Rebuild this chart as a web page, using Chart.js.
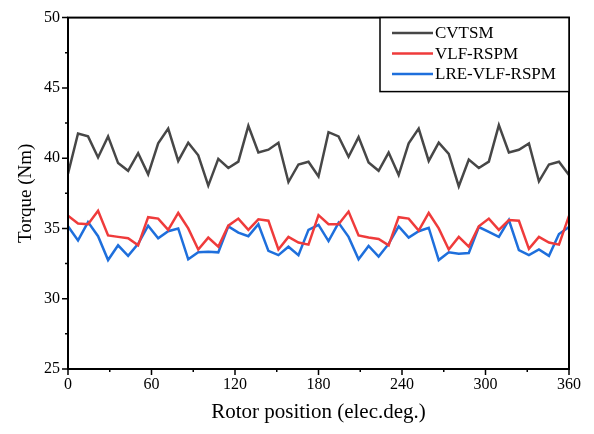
<!DOCTYPE html>
<html>
<head>
<meta charset="utf-8">
<script src="https://cdn.jsdelivr.net/npm/chart.js@4"></script>
<style>
  html, body { margin: 0; padding: 0; background: #fff; }
  #wrap { width: 594px; height: 434px; }
</style>
</head>
<body>
<div id="wrap"><canvas id="c" width="594" height="434"></canvas></div>
<script>
// Rotor positions (elec. deg.), step 7.2
const positions = [0,7.2,14.4,21.6,28.8,36,43.2,50.4,57.6,64.8,72,79.2,86.4,93.6,100.8,108,115.2,122.4,129.6,136.8,144,151.2,158.4,165.6,172.8,180,187.2,194.4,201.6,208.8,216,223.2,230.4,237.6,244.8,252,259.2,266.4,273.6,280.8,288,295.2,302.4,309.6,316.8,324,331.2,338.4,345.6,352.8,360];

const cvtsm = [38.9,41.75,41.55,40.05,41.55,39.65,39.1,40.35,38.85,41.05,42.1,39.8,41.1,40.2,38.05,39.95,39.3,39.75,42.3,40.4,40.6,41.1,38.3,39.55,39.75,38.7,41.85,41.55,40.1,41.5,39.7,39.1,40.4,38.8,41.05,42.1,39.8,41.1,40.3,38.0,39.9,39.3,39.75,42.35,40.4,40.6,41.05,38.35,39.55,39.75,38.8];

const vlfRspm = [35.9,35.35,35.3,36.25,34.5,34.4,34.3,33.8,35.8,35.7,34.9,36.1,35.0,33.5,34.35,33.7,35.2,35.7,34.9,35.65,35.55,33.5,34.4,34.0,33.85,35.95,35.3,35.3,36.2,34.5,34.35,34.25,33.8,35.8,35.7,34.85,36.1,35.0,33.5,34.4,33.7,35.15,35.7,34.9,35.6,35.55,33.55,34.4,34.0,33.85,35.9];

const lreVlfRspm = [35.15,34.15,35.45,34.45,32.75,33.8,33.05,33.9,35.2,34.3,34.8,35.0,32.8,33.3,33.35,33.3,35.15,34.7,34.45,35.3,33.4,33.1,33.7,33.1,34.9,35.25,34.1,35.4,34.4,32.8,33.75,33.0,33.9,35.15,34.35,34.8,35.05,32.75,33.3,33.2,33.25,35.1,34.75,34.4,35.6,33.45,33.1,33.5,33.05,34.6,35.1];

const seriesNames = ['CVTSM', 'VLF-RSPM', 'LRE-VLF-RSPM'];
const xTickLabels = [0, 60, 120, 180, 240, 300, 360];
const yTickLabels = [25, 30, 35, 40, 45, 50];

const colors = ['#474747', '#ef3b3b', '#1e6fdc'];
const FONT = "'Liberation Serif', 'Times New Roman', serif";

function pts(ys) { return positions.map((x, i) => ({ x: x, y: ys[i] })); }

const frameAndTicks = {
  id: 'frameAndTicks',
  afterDraw(chart) {
    const ctx = chart.ctx;
    const a = chart.chartArea;
    const xs = chart.scales.x, ys = chart.scales.y;
    ctx.save();
    ctx.strokeStyle = '#000';
    ctx.lineWidth = 2;
    ctx.strokeRect(a.left, a.top, a.right - a.left, a.bottom - a.top);
    ctx.lineWidth = 1.5;
    ctx.beginPath();
    xs.ticks.forEach(t => {
      const px = xs.getPixelForValue(t.value);
      const len = xTickLabels.includes(t.value) ? 6 : 3;
      ctx.moveTo(px, a.bottom);
      ctx.lineTo(px, a.bottom + len);
    });
    ys.ticks.forEach(t => {
      const py = ys.getPixelForValue(t.value);
      const len = yTickLabels.includes(t.value) ? 6 : 3;
      ctx.moveTo(a.left, py);
      ctx.lineTo(a.left - len, py);
    });
    ctx.stroke();

    // legend box
    const bx = 380, by = a.top, bw = a.right - 380, bh = 74;
    ctx.fillStyle = '#fff';
    ctx.fillRect(bx, by, bw, bh);
    ctx.lineWidth = 1.5;
    ctx.strokeRect(bx, by, bw, bh);
    ctx.font = '17px ' + FONT;
    ctx.textBaseline = 'middle';
    ctx.textAlign = 'left';
    chart.data.datasets.forEach((ds, i) => {
      const yy = 33 + i * 20.5;
      ctx.strokeStyle = ds.borderColor;
      ctx.lineWidth = 2.5;
      ctx.beginPath();
      ctx.moveTo(392, yy);
      ctx.lineTo(433, yy);
      ctx.stroke();
      ctx.fillStyle = '#000';
      ctx.fillText(ds.label, 435, yy + 1);
    });
    ctx.restore();
  }
};

new Chart(document.getElementById('c'), {
  type: 'line',
  data: {
    datasets: [
      { label: seriesNames[0], data: pts(cvtsm), borderColor: colors[0], borderWidth: 2.5 },
      { label: seriesNames[1], data: pts(vlfRspm), borderColor: colors[1], borderWidth: 2.5 },
      { label: seriesNames[2], data: pts(lreVlfRspm), borderColor: colors[2], borderWidth: 2.5 }
    ]
  },
  options: {
    responsive: false,
    animation: false,
    devicePixelRatio: 1,
    layout: { padding: { top: 15, right: 25, left: 0, bottom: 0 } },
    elements: { point: { radius: 0 }, line: { tension: 0, borderJoinStyle: 'miter' } },
    plugins: { legend: { display: false }, tooltip: { enabled: false } },
    scales: {
      x: {
        type: 'linear', min: 0, max: 360,
        ticks: {
          stepSize: 30, autoSkip: false, maxRotation: 0, padding: 6,
          color: '#000', font: { family: FONT, size: 16 },
          callback: v => xTickLabels.includes(v) ? String(v) : ''
        },
        grid: { display: false, drawTicks: false },
        border: { display: false },
        title: { display: true, text: 'Rotor position (elec.deg.)', color: '#000',
                 font: { family: FONT, size: 21 }, padding: { top: 6, bottom: 9 } },
        afterFit: s => { s.height = 434 - 369; }
      },
      y: {
        min: 25, max: 50,
        ticks: {
          stepSize: 2.5, autoSkip: false, padding: 8,
          color: '#000', font: { family: FONT, size: 16 },
          callback: v => yTickLabels.includes(v) ? String(v) : ''
        },
        grid: { display: false, drawTicks: false },
        border: { display: false },
        title: { display: true, text: 'Torque (Nm)', color: '#000',
                 font: { family: FONT, size: 19 }, padding: { top: 15, bottom: 4 } },
        afterFit: s => { s.width = 68; }
      }
    }
  },
  plugins: [frameAndTicks]
});
</script>
</body>
</html>
